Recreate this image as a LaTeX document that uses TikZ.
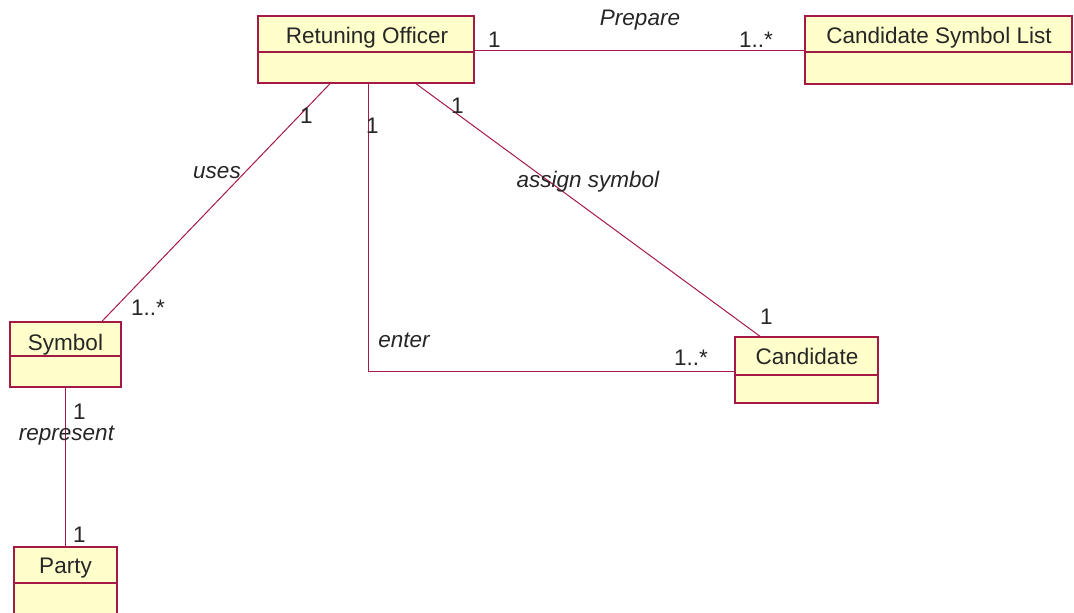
\documentclass[tikz,border=0pt]{standalone}
\usepackage{fontspec}
\setmainfont{Liberation Sans}
\begin{document}
\definecolor{umlline}{RGB}{165,25,70}
\definecolor{umlfill}{RGB}{255,255,204}
\begin{tikzpicture}[x=1pt,y=-1pt,
  cls/.style={draw=umlline,fill=umlfill,line width=1.4pt,inner sep=0pt},
  txt/.style={font=\fontsize{22.5}{26}\selectfont,inner sep=0pt,text=black!85},
  title/.style={txt,anchor=base},
  assoc/.style={draw=umlline,line width=1pt},
  mult/.style={txt,anchor=base west},
  role/.style={txt,font=\fontsize{22.5}{26}\selectfont\itshape,anchor=base}]
\useasboundingbox (0,0) rectangle (1074,613);

% class boxes
\node[cls,minimum width=216pt,minimum height=67pt] (ro) at (366,49.5) {};
\draw[umlline,line width=1.2pt] (ro.west |- 0,52) -- (ro.east |- 0,52);
\node[title] (rot) at (367,43) {Retuning Officer};

\node[cls,minimum width=267pt,minimum height=68pt] (csl) at (938.5,50) {};
\draw[umlline,line width=1.2pt] (csl.west |- 0,52) -- (csl.east |- 0,52);
\node[title] (cslt) at (939,43) {Candidate Symbol List};

\node[cls,minimum width=111pt,minimum height=65pt] (sym) at (65.5,354.5) {};
\draw[umlline,line width=1.2pt] (sym.west |- 0,356) -- (sym.east |- 0,356);
\node[title] (symt) at (65.5,350) {Symbol};

\node[cls,minimum width=103pt,minimum height=70pt] (party) at (65.5,582) {};
\draw[umlline,line width=1.2pt] (party.west |- 0,583) -- (party.east |- 0,583);
\node[title] (partyt) at (65.5,573) {Party};

\node[cls,minimum width=143pt,minimum height=66pt] (cand) at (806.5,370) {};
\draw[umlline,line width=1.2pt] (cand.west |- 0,375) -- (cand.east |- 0,375);
\node[title] (candt) at (807,364) {Candidate};

% associations
\draw[assoc] (ro.east |- 0,50) -- (csl.west |- 0,50);
\draw[assoc] (ro.south -| 330,0) -- (sym.north -| 102,0);
\draw[assoc] (ro.south -| 368,0) -- (368,371) -- (cand.west |- 0,371);
\draw[assoc] (ro.south -| 416,0) -- (cand.north -| 760,0);
\draw[assoc] (sym.south) -- (party.north);

% association names
\node[role] (lprep) at (640,25) {Prepare};
\node[role] (luses) at (217,178) {uses};
\node[role] (lassign) at (588,187) {assign symbol};
\node[role] (lenter) at (404,347) {enter};
\node[role] (lrep) at (66.5,440) {represent};

% multiplicities
\node[mult] (m1) at (488,47) {1};
\node[mult] (m2) at (739,47) {1..*};
\node[mult] (m3) at (300,123) {1};
\node[mult] (m4) at (131,315) {1..*};
\node[mult] (m5) at (366,133) {1};
\node[mult] (m6) at (674,365) {1..*};
\node[mult] (m7) at (451,113) {1};
\node[mult] (m8) at (760,324) {1};
\node[mult] (m9) at (73,419) {1};
\node[mult] (m10) at (73,542) {1};
\end{tikzpicture}
\end{document}
